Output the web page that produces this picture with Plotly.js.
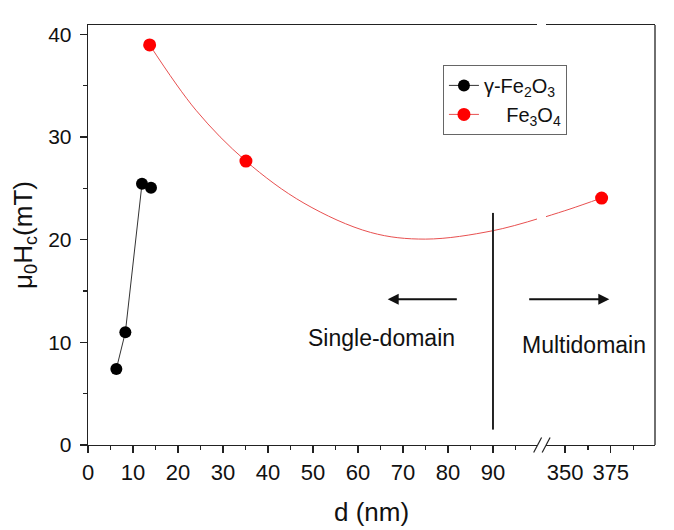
<!DOCTYPE html>
<html>
<head>
<meta charset="utf-8">
<script src="https://cdn.plot.ly/plotly-3.0.1.min.js"></script>
<style>html,body{margin:0;padding:0;background:#fff;}#chart{width:674px;height:530px;}</style>
</head>
<body>
<div id="chart"></div>
<script>
// ---- data ----
var gFe2O3_d  = [6.3, 8.3, 12.0, 14.0];
var gFe2O3_Hc = [7.41, 10.97, 25.44, 25.05];

var fe3o4_d  = [13.7, 35.1, 370];
var fe3o4_Hc = [38.96, 27.65, 24.05];

// smooth guide curve through the Fe3O4 points
var curveLow_d  = [13.7, 24, 35.1, 48, 62.8, 75, 90, 101];
var curveLow_Hc = [38.96, 32.6, 27.65, 23.55, 20.7, 20.05, 20.87, 22.17];
var curveHigh_d  = [338, 352.7, 370];
var curveHigh_Hc = [22.15, 22.98, 24.05];

var xTicksLow = [0, 10, 20, 30, 40, 50, 60, 70, 80, 90];
var xTicksHigh = [350, 375];
var yTicks = [0, 10, 20, 30, 40];

// boundary marker and labels
var boundary_d = 90, boundary_Hc = [1.5, 22.6];
var arrowY = 14.2;
var leftArrow = {head: 66.6, tail: 82.3};
var rightArrowHead = 374.2;

var labelSingle = {text: 'Single-domain', d: 65.3, Hc: 10.46};
var labelMulti = {text: 'Multidomain', d: 360.4, Hc: 9.78};

// ---- build traces ----
var BREAK = 100;
function splitLow(d, v){ var x=[],y=[]; d.forEach(function(a,i){ if(a<BREAK){x.push(a);y.push(v[i]);} }); return {x:x,y:y}; }
function splitHigh(d, v){ var x=[],y=[]; d.forEach(function(a,i){ if(a>=BREAK){x.push(a);y.push(v[i]);} }); return {x:x,y:y}; }
function withGaps(p){ var x=[],y=[]; p.x.forEach(function(a,i){ if(i>0){x.push(null);y.push(null);} x.push(a); y.push(p.y[i]); }); return {x:x,y:y}; }

var RED = '#ff0000';
var REDLINE = '#e85050';

var fLow = withGaps(splitLow(fe3o4_d, fe3o4_Hc));
var fHigh = splitHigh(fe3o4_d, fe3o4_Hc);

var traces = [
  {x: gFe2O3_d, y: gFe2O3_Hc, xaxis: 'x', yaxis: 'y', mode: 'lines+markers',
   name: 'γ-Fe<sub>2</sub>O<sub>3</sub>',
   line: {color: '#333', width: 1}, marker: {color: '#000', size: 12}},
  {x: curveLow_d, y: curveLow_Hc, xaxis: 'x', yaxis: 'y', mode: 'lines', showlegend: false,
   line: {color: REDLINE, width: 1, shape: 'spline', smoothing: 1}, hoverinfo: 'skip'},
  {x: curveHigh_d, y: curveHigh_Hc, xaxis: 'x2', yaxis: 'y', mode: 'lines', showlegend: false,
   line: {color: REDLINE, width: 1, shape: 'spline', smoothing: 1}, hoverinfo: 'skip'},
  {x: fLow.x, y: fLow.y, xaxis: 'x', yaxis: 'y', mode: 'lines+markers', connectgaps: false,
   name: '\u00a0\u00a0\u00a0\u00a0Fe<sub>3</sub>O<sub>4</sub>',
   line: {color: REDLINE, width: 1}, marker: {color: RED, size: 13}},
  {x: fHigh.x, y: fHigh.y, xaxis: 'x2', yaxis: 'y', mode: 'markers', showlegend: false,
   marker: {color: RED, size: 13}}
];

var FONT = 'Arial, "Liberation Sans", sans-serif';
var AX = '#222';

var layout = {
  width: 674, height: 530,
  margin: {l: 88, r: 19, t: 25, b: 85, pad: 0},
  paper_bgcolor: '#fff', plot_bgcolor: '#fff',
  font: {family: FONT, color: '#111', size: 20},
  showlegend: true,
  legend: {x: 0.626, y: 0.905, xanchor: 'left', yanchor: 'top',
           bgcolor: '#fff', bordercolor: '#666', borderwidth: 1,
           font: {family: FONT, size: 20, color: '#111'}, tracegroupgap: 2},
  xaxis: {domain: [0, 0.792], range: [0, 99.8], tickmode: 'array', tickvals: xTicksLow,
          ticks: 'outside', ticklen: 7, tickwidth: 1.3, tickcolor: AX,
          minor: {dtick: 5, tick0: 0, ticks: 'outside', ticklen: 4, tickwidth: 1.3, tickcolor: AX},
          showline: true, linecolor: AX, linewidth: 1.3, mirror: true,
          showgrid: false, zeroline: false, tickfont: {size: 22}, ticklabelstandoff: 0},
  xaxis2: {domain: [0.8078, 1], range: [339.6, 399.2], anchor: 'y', tickmode: 'array', tickvals: xTicksHigh,
          ticks: 'outside', ticklen: 7, tickwidth: 1.3, tickcolor: AX,
          minor: {dtick: 12.5, tick0: 0, ticks: 'outside', ticklen: 4, tickwidth: 1.3, tickcolor: AX},
          showline: true, linecolor: AX, linewidth: 1.3, mirror: true,
          showgrid: false, zeroline: false, tickfont: {size: 22}, ticklabelstandoff: 0},
  yaxis: {range: [0, 40.9], tickmode: 'array', tickvals: yTicks, anchor: 'x',
          ticks: 'outside', ticklen: 7, tickwidth: 1.3, tickcolor: AX,
          minor: {dtick: 5, tick0: 0, ticks: 'outside', ticklen: 4, tickwidth: 1.3, tickcolor: AX},
          showline: true, linecolor: AX, linewidth: 1.3,
          showgrid: false, zeroline: false, tickfont: {size: 21}, ticklabelstandoff: 4,
          title: {text: 'μ<sub>0</sub>H<sub>c</sub>(mT)', font: {size: 26, color: '#111'}, standoff: 8}},
  shapes: [
    // right frame edge
    {type: 'line', xref: 'paper', yref: 'paper', x0: 1, x1: 1, y0: 0, y1: 1,
     line: {color: AX, width: 1.3}},
    // boundary at 90 nm
    {type: 'line', xref: 'x', yref: 'y', x0: boundary_d, x1: boundary_d, y0: boundary_Hc[0], y1: boundary_Hc[1],
     line: {color: '#222', width: 2}},
    // axis break marks
    {type: 'line', xref: 'paper', yref: 'paper', x0: 0.786, x1: 0.800, y0: -0.018, y1: 0.018,
     line: {color: AX, width: 1.2}},
    {type: 'line', xref: 'paper', yref: 'paper', x0: 0.801, x1: 0.815, y0: -0.018, y1: 0.018,
     line: {color: AX, width: 1.2}}
  ],
  annotations: [
    {xref: 'x', yref: 'y', x: leftArrow.head, y: arrowY, axref: 'x', ayref: 'y', ax: leftArrow.tail, ay: arrowY,
     text: '', showarrow: true, arrowhead: 2, arrowsize: 1.1, arrowwidth: 2, arrowcolor: '#111'},
    {xref: 'x2', yref: 'y', x: rightArrowHead, y: arrowY, ax: -81.6, ay: 0,
     text: '', showarrow: true, arrowhead: 2, arrowsize: 1.1, arrowwidth: 2, arrowcolor: '#111'},
    {xref: 'x', yref: 'y', x: labelSingle.d, y: labelSingle.Hc, text: labelSingle.text, showarrow: false,
     font: {size: 23, color: '#111'}},
    {xref: 'x2', yref: 'y', x: labelMulti.d, y: labelMulti.Hc, text: labelMulti.text, showarrow: false,
     font: {size: 23, color: '#111'}},
    {xref: 'paper', yref: 'paper', x: 0.5, y: -0.16, yanchor: 'middle', xanchor: 'center',
     text: 'd (nm)', showarrow: false, font: {size: 26, color: '#111'}}
  ]
};

Plotly.newPlot('chart', traces, layout, {displayModeBar: false, staticPlot: true});
</script>
</body>
</html>
